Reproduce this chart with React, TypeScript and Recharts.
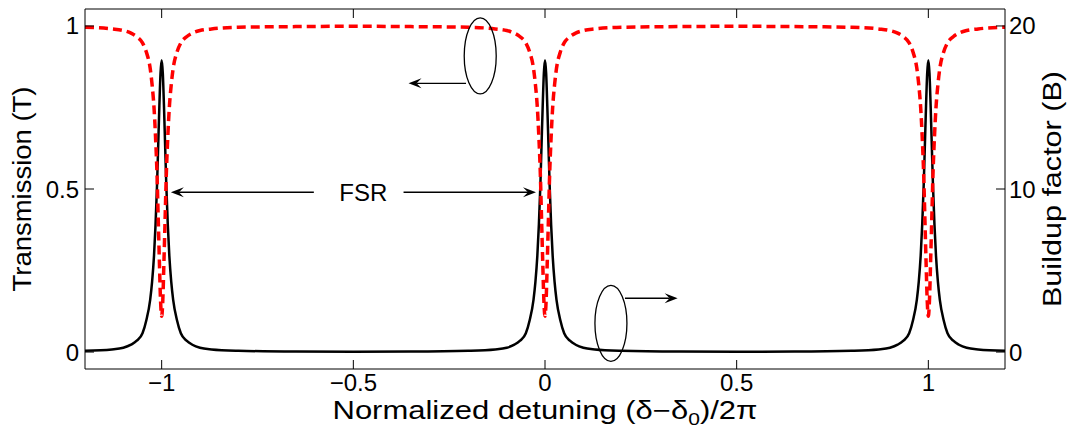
import React from "react";
import { LineChart, Line, XAxis, YAxis, ReferenceLine, ReferenceDot, Label } from "recharts";

// resonance centres (normalized detuning)
const resonances = [-1, 0, 1];

// one resonance profile
const offsets = [
  -0.35, -0.2, -0.13, -0.1, -0.08, -0.065, -0.05, -0.04, -0.03, -0.025, -0.02, -0.016, -0.012, -0.009, -0.006, -0.003,
  0,
  0.003, 0.006, 0.009, 0.012, 0.016, 0.02, 0.025, 0.03, 0.04, 0.05, 0.065, 0.08, 0.1, 0.13, 0.2, 0.35,
];
const buildup = [
  0.03, 0.08, 0.16, 0.26, 0.45, 0.7, 1.15, 1.95, 3.2, 4.3, 5.9, 7.8, 10.3, 12.7, 15.1, 17.1,
  17.9,
  17.1, 15.1, 12.7, 10.3, 7.8, 5.9, 4.3, 3.2, 1.95, 1.15, 0.7, 0.45, 0.26, 0.16, 0.08, 0.03,
];
const transmission = [
  0.998, 0.996, 0.991, 0.986, 0.978, 0.967, 0.948, 0.92, 0.87, 0.82, 0.75, 0.66, 0.54, 0.41, 0.28, 0.16,
  0.11,
  0.16, 0.28, 0.41, 0.54, 0.66, 0.75, 0.82, 0.87, 0.92, 0.948, 0.967, 0.978, 0.986, 0.991, 0.996, 0.998,
];

// half way between resonances
const midX = [-0.5, 0.5];
const midBuildup = [0.02, 0.02];
const midTransmission = [0.999, 0.999];

const xTicks = [-1, -0.5, 0, 0.5, 1];
const xTickLabels = ["\u22121", "\u22120.5", "0", "0.5", "1"];
const tTicks = [0, 0.5, 1];
const bTicks = [0, 10, 20];

const rows: { x: number; t: number; b: number }[] = [];
resonances.forEach((c) => {
  offsets.forEach((o, i) => {
    const x = c + o;
    if (x >= -1.2 - 1e-9 && x <= 1.2 + 1e-9) rows.push({ x, t: transmission[i], b: buildup[i] });
  });
});
midX.forEach((x, i) => rows.push({ x, t: midTransmission[i], b: midBuildup[i] }));
rows.sort((a, b) => a.x - b.x);

const FONT = "'Liberation Sans', Arial, sans-serif";

function Arrow(props: any) {
  const { x1, y1, x2, y2 } = props;
  const dx = x2 - x1;
  const dy = y2 - y1;
  const len = Math.hypot(dx, dy) || 1;
  const ux = dx / len;
  const uy = dy / len;
  const px = -uy;
  const py = ux;
  const L = 13;
  const W = 5;
  const N = 8;
  const bx = x2 - ux * L;
  const by = y2 - uy * L;
  const nx = x2 - ux * N;
  const ny = y2 - uy * N;
  const d = `M${x2},${y2} L${bx + px * W},${by + py * W} L${nx},${ny} L${bx - px * W},${by - py * W} Z`;
  return (
    <g>
      <line x1={x1} y1={y1} x2={nx} y2={ny} stroke="#000" strokeWidth={1.3} />
      <path d={d} fill="#000" />
    </g>
  );
}

function Ellipse(props: any) {
  return <ellipse cx={props.cx} cy={props.cy} rx={16} ry={38} fill="none" stroke="#000" strokeWidth={1.3} />;
}

function FsrText(props: any) {
  return (
    <text x={props.cx} y={props.cy + 9} textAnchor="middle" fontFamily={FONT} fontSize={24} fill="#000">
      FSR
    </text>
  );
}

const arrows = [
  { x1: -0.206, y1: 0.824, x2: -0.356, y2: 0.824 },
  { x1: 0.2086, y1: 0.165, x2: 0.346, y2: 0.165 },
  { x1: -0.603, y1: 0.49, x2: -0.976, y2: 0.49 },
  { x1: -0.369, y1: 0.49, x2: -0.0235, y2: 0.49 },
];
const ellipses = [
  { x: -0.169, y: 0.908 },
  { x: 0.172, y: 0.088 },
];

const tickStyle = { fill: "#000", fontSize: 24, fontFamily: FONT };

export default function App() {
  return (
    <div style={{ position: "absolute", left: 0, top: 0, width: 1072, height: 438, background: "#fff" }}>
      <LineChart width={1072} height={438} data={rows} margin={{ top: 0, right: 0, bottom: 0, left: 0 }}>
        <XAxis
          xAxisId="bottom"
          dataKey="x"
          type="number"
          domain={[-1.2, 1.2]}
          ticks={xTicks}
          tickFormatter={(v: number) => xTickLabels[xTicks.indexOf(v)] ?? String(v)}
          height={69}
          tickSize={-9}
          tickMargin={14}
          stroke="#000"
          tick={tickStyle}
          allowDataOverflow
        >
          <Label
            content={(p: any) => {
              const vb = p.viewBox || { x: 85, y: 369, width: 920 };
              return (
                <text
                  x={vb.x + vb.width / 2}
                  y={vb.y + 50}
                  textAnchor="middle"
                  fontFamily={FONT}
                  fontSize={25}
                  fill="#000"
                  textLength={425}
                  lengthAdjust="spacingAndGlyphs"
                >
                  Normalized detuning (δ−δ
                  <tspan dy={6} fontSize={17}>0</tspan>
                  <tspan dy={-6}>)/2π</tspan>
                </text>
              );
            }}
          />
        </XAxis>
        <XAxis
          xAxisId="top"
          orientation="top"
          dataKey="x"
          type="number"
          domain={[-1.2, 1.2]}
          ticks={xTicks}
          tickFormatter={() => ""}
          height={9}
          tickSize={-9}
          stroke="#000"
          allowDataOverflow
        />
        <YAxis
          yAxisId="left"
          domain={[-0.052, 1.052]}
          ticks={tTicks}
          width={85}
          tickSize={-9}
          tickMargin={15}
          stroke="#000"
          tick={tickStyle}
          allowDataOverflow
        >
          <Label
            content={(p: any) => {
              const vb = p.viewBox || { x: 0, y: 9, height: 360 };
              const cy = vb.y + vb.height / 2;
              return (
                <text
                  x={31}
                  y={cy}
                  transform={`rotate(-90, 31, ${cy})`}
                  textAnchor="middle"
                  fontFamily={FONT}
                  fontSize={26}
                  fill="#000"
                  textLength={205}
                  lengthAdjust="spacingAndGlyphs"
                >
                  Transmission (T)
                </text>
              );
            }}
          />
        </YAxis>
        <YAxis
          yAxisId="right"
          orientation="right"
          domain={[-1.04, 21.04]}
          ticks={bTicks}
          width={67}
          tickSize={-9}
          tickMargin={13}
          stroke="#000"
          tick={tickStyle}
          allowDataOverflow
        >
          <Label
            content={(p: any) => {
              const vb = p.viewBox || { x: 1005, y: 9, height: 360 };
              const cy = vb.y + vb.height / 2;
              return (
                <text
                  x={1061}
                  y={cy}
                  transform={`rotate(-90, 1061, ${cy})`}
                  textAnchor="middle"
                  fontFamily={FONT}
                  fontSize={26}
                  fill="#000"
                  textLength={236}
                  lengthAdjust="spacingAndGlyphs"
                >
                  Buildup factor (B)
                </text>
              );
            }}
          />
        </YAxis>

        <Line
          xAxisId="bottom"
          yAxisId="right"
          dataKey="b"
          type="monotone"
          stroke="#000"
          strokeWidth={2.5}
          dot={false}
          isAnimationActive={false}
        />
        <Line
          xAxisId="bottom"
          yAxisId="left"
          dataKey="t"
          type="monotone"
          stroke="#ff0000"
          strokeWidth={3.5}
          strokeDasharray="9 5"
          dot={false}
          isAnimationActive={false}
        />

        {ellipses.map((e, i) => (
          <ReferenceDot key={`e${i}`} xAxisId="bottom" yAxisId="left" x={e.x} y={e.y} r={1} shape={Ellipse} />
        ))}
        {arrows.map((a, i) => (
          <ReferenceLine
            key={`a${i}`}
            xAxisId="bottom"
            yAxisId="left"
            segment={[
              { x: a.x1, y: a.y1 },
              { x: a.x2, y: a.y2 },
            ]}
            shape={Arrow}
          />
        ))}
        <ReferenceDot xAxisId="bottom" yAxisId="left" x={-0.474} y={0.49} r={1} shape={FsrText} />
      </LineChart>
    </div>
  );
}
